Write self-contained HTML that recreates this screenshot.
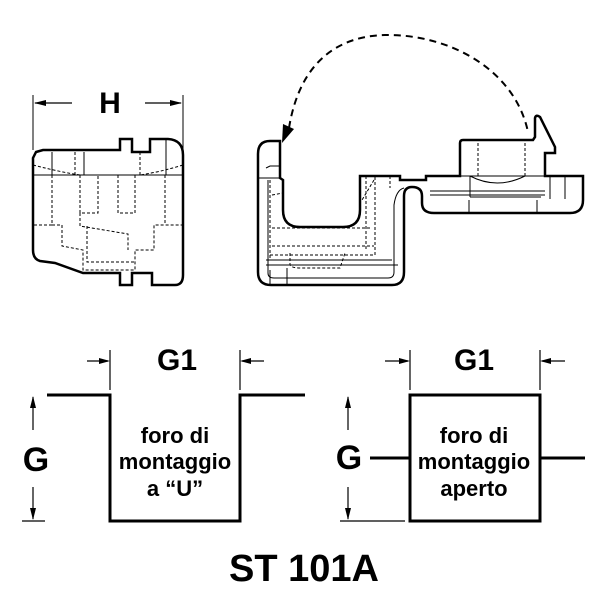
<!DOCTYPE html>
<html><head><style>body{margin:0;background:#fff}svg{display:block}</style></head><body>
<svg width="600" height="600" viewBox="0 0 600 600" xmlns="http://www.w3.org/2000/svg" font-family="Liberation Sans, Arial, sans-serif">
<g fill="none" stroke="#000">
<!-- Left piece -->
<path stroke-width="2.5" d="M36,152 L43,150 L120,150 L120,139 L132,139 L132,152 L150,152 L150,139 L168,139 Q183,140 183,155 L183,275 Q183,285 175,285 L152,285 L152,273 L132,273 L132,285 L120,285 L120,273 L83,273 L55,263 L40,261 Q33,259 33,250 L33,158 Z"/>
<path stroke-width="1" d="M33,175 L183,175 M52,152 L52,175 M84,152 L84,175 M166,139 L166,175"/>
<path stroke-width="1" stroke-dasharray="3,2" d="M33,165 Q60,172 80,175 M183,165 Q160,172 140,175 M75,152 L75,175 M140,152 L140,175 M52,175 L52,225 L33,225 M52,225 L62,225 L62,246 L83,250 L83,270 L135,270 L135,250 L154,250 L154,225 L183,225 M165,175 L165,225 M80,175 L80,213 L98,213 L98,175 M118,175 L118,213 L135,213 L135,175 M80,213 L80,226 L128,234 L128,250 M87,226 L87,262 L135,262"/>
<path stroke-width="1" d="M33,95 L33,150 M183,95 L183,150"/>
<!-- Right piece outline -->
<path stroke-width="2.5" d="M280,141 L270,141 Q258,141 258,154 L258,272 Q258,285 271,285 L392,285 Q404,285 404,272 L404,196 Q404,187 412,187 Q422,187 422,196 L422,203 Q422,213 434,213 L570,213 Q583,213 583,200 L583,176 L545,176 L545,153 L555,153 L555,147 L540,117 Q536,114 535,118 L535,137 L533,140 L463,140 Q460,140 460,143 L460,176 L426,176 L426,180 L400,180 L400,176 L360,176 L360,210 Q360,227 343,227 L300,227 Q283,227 283,210 L283,180 L280,178 Z"/>
<path stroke-width="1" d="M258,178 L280,178 M268,180 L268,273 Q268,278 274,278 L388,278 Q394,278 394,272 L394,205 Q396,190 404,188 M266,265 L398,265 M266,260 L392,260 M270,270 L270,285 M287,268 L287,285 M266,168 L270,166 L280,166 L280,178 M430,191 L545,191 M430,195 L545,195 M470,197 L541,197 M470,197 L470,176 M469,200 L469,213 M537,200 L537,213 M550,176 L550,199 M565,176 L565,199 M460,176 L560,176 M470,176 Q497,190 525,176"/>
<path stroke-width="1" stroke-dasharray="3,2" d="M270,180 L270,258 M272,195 L283,193 M272,228 L371,228 M272,246 L374,246 M270,255 L375,255 L375,176 M366,176 L366,250 M374,180 L362,200 M290,253 L290,265 Q292,268 300,268 L340,268 L345,253 M390,176 L390,188 M478,143 L478,176 M525,143 L525,176"/>
<!-- dashed arc -->
<path stroke-width="2" stroke-dasharray="7,5" d="M289,128 C300,60 340,36 385,35 C450,34 515,70 528,132"/>
</g>
<polygon points="282,143 283,124 294,129" fill="#000"/>
<!-- H dimension -->
<text x="110" y="113" font-size="30" font-weight="bold" text-anchor="middle">H</text>
<g stroke="#000" stroke-width="1.2"><line x1="35" y1="103" x2="72" y2="103"/><line x1="145" y1="103" x2="181" y2="103"/></g>
<polygon points="34,103 46,100 46,106" fill="#000"/><polygon points="182,103 170,100 170,106" fill="#000"/>
<!-- bottom left U profile -->
<path d="M47,395 L110,395 L110,521 L240,521 L240,395 L305,395" fill="none" stroke="#000" stroke-width="3"/>
<!-- bottom right square -->
<path d="M370,458 L410,458 M540,458 L585,458" stroke="#000" stroke-width="3"/>
<rect x="410" y="395" width="130" height="126" fill="none" stroke="#000" stroke-width="3"/>
<g stroke="#000" stroke-width="1.2">
<line x1="110" y1="350" x2="110" y2="390"/><line x1="240" y1="350" x2="240" y2="390"/>
<line x1="87" y1="361" x2="108" y2="361"/><line x1="242" y1="361" x2="264" y2="361"/>
<line x1="410" y1="350" x2="410" y2="390"/><line x1="540" y1="350" x2="540" y2="390"/>
<line x1="385" y1="361" x2="408" y2="361"/><line x1="542" y1="361" x2="565" y2="361"/>
<line x1="33" y1="397" x2="33" y2="430"/><line x1="33" y1="487" x2="33" y2="519"/>
<line x1="348" y1="397" x2="348" y2="430"/><line x1="348" y1="487" x2="348" y2="519"/>
<line x1="22" y1="521" x2="45" y2="521"/><line x1="340" y1="521" x2="405" y2="521"/>
</g>
<g fill="#000">
<polygon points="110,361 99,358 99,364"/><polygon points="240,361 251,358 251,364"/>
<polygon points="410,361 399,358 399,364"/><polygon points="540,361 551,358 551,364"/>
<polygon points="33,396 30,408 36,408"/><polygon points="33,520 30,508 36,508"/>
<polygon points="348,396 345,408 351,408"/><polygon points="348,520 345,508 351,508"/>
</g>
<g font-weight="bold" text-anchor="middle">
<text x="177" y="370" font-size="30">G1</text>
<text x="474" y="370" font-size="30">G1</text>
<text x="36" y="471" font-size="34">G</text>
<text x="349" y="469" font-size="34">G</text>
<text x="175" y="443" font-size="22">foro di</text>
<text x="175" y="469" font-size="22">montaggio</text>
<text x="175" y="496" font-size="22">a “U”</text>
<text x="474" y="443" font-size="22">foro di</text>
<text x="474" y="469" font-size="22">montaggio</text>
<text x="474" y="496" font-size="22">aperto</text>
<text x="304" y="581" font-size="38">ST 101A</text>
</g>
</svg>
</body></html>
